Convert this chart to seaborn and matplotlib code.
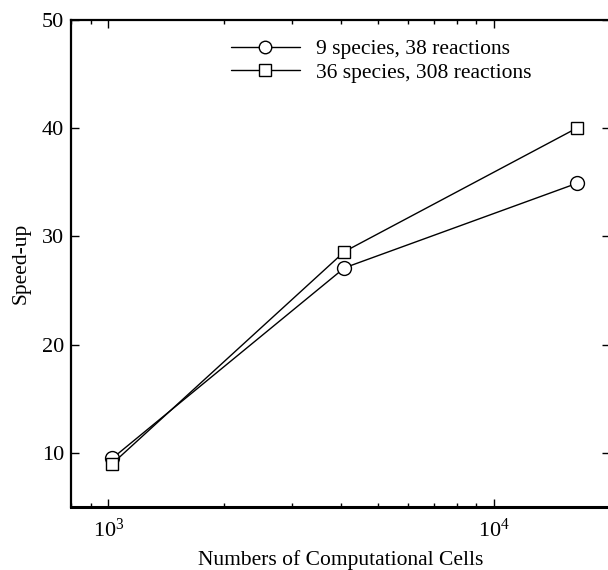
import matplotlib
matplotlib.use("Agg")
import matplotlib.pyplot as plt
import seaborn as sns
import pandas as pd
from matplotlib.ticker import LogLocator, NullFormatter, FixedLocator, NullLocator

sns.set_style("ticks", {"axes.edgecolor": "black", "text.color": "black",
                        "xtick.color": "black", "ytick.color": "black",
                        "axes.labelcolor": "black"})
plt.rcParams["font.family"] = ["Liberation Serif", "DejaVu Serif"]
plt.rcParams["mathtext.fontset"] = "stix"

cells = [1024, 4096, 16384]
speedup_small = [9.5, 27.1, 34.9]
speedup_large = [9.0, 28.6, 40.0]
series_names = ["9 species, 38 reactions", "36 species, 308 reactions"]

df = pd.DataFrame({
    "cells": cells * 2,
    "speedup": speedup_small + speedup_large,
    "mechanism": [series_names[0]] * 3 + [series_names[1]] * 3,
})

fig = plt.figure(figsize=(6.08, 5.70), dpi=100)
ax = fig.add_axes([71 / 608, 1 - 507 / 570, (610 - 71) / 608, (507 - 20) / 570])

sns.lineplot(
    data=df, x="cells", y="speedup", hue="mechanism", style="mechanism",
    palette=["black", "black"], markers={series_names[0]: "o", series_names[1]: "s"},
    dashes=False, ax=ax, linewidth=1.0, markersize=9,
    markerfacecolor="white", markeredgecolor="black", markeredgewidth=1.0,
)
for line, ms in zip(ax.lines, [10, 8]):
    line.set_markersize(ms)

ax.set_xscale("log")
ax.set_xlim(800, 20000)
ax.set_ylim(5, 50)
ax.yaxis.set_major_locator(FixedLocator([10, 20, 30, 40, 50]))
ax.yaxis.set_minor_locator(NullLocator())
ax.xaxis.set_major_locator(LogLocator(base=10))
ax.xaxis.set_minor_locator(LogLocator(base=10, subs=range(2, 10)))
ax.xaxis.set_minor_formatter(NullFormatter())

ax.tick_params(which="both", direction="in", top=True, right=True, labelsize=16, width=1.0,
               colors="black")
ax.tick_params(which="major", length=6)
ax.tick_params(axis="y", which="major", pad=5)
ax.tick_params(axis="x", which="major", pad=8)
ax.tick_params(which="minor", length=3)
for side in ["left", "bottom", "top", "right"]:
    ax.spines[side].set_visible(True)
    ax.spines[side].set_linewidth(1.6)
    ax.spines[side].set_color("black")
ax.spines["bottom"].set_linewidth(2.2)

ax.set_xlabel("Numbers of Computational Cells", fontsize=15.5, labelpad=6)
ax.set_ylabel("Speed-up", fontsize=15.5, labelpad=8)

handles, labels = ax.get_legend_handles_labels()
ax.legend(handles, labels, loc="upper left", bbox_to_anchor=(0.261, 1.0), frameon=False,
          fontsize=15.5, handlelength=3.2, handletextpad=0.75, labelspacing=0.15)

fig.savefig("out.png", dpi=100)
